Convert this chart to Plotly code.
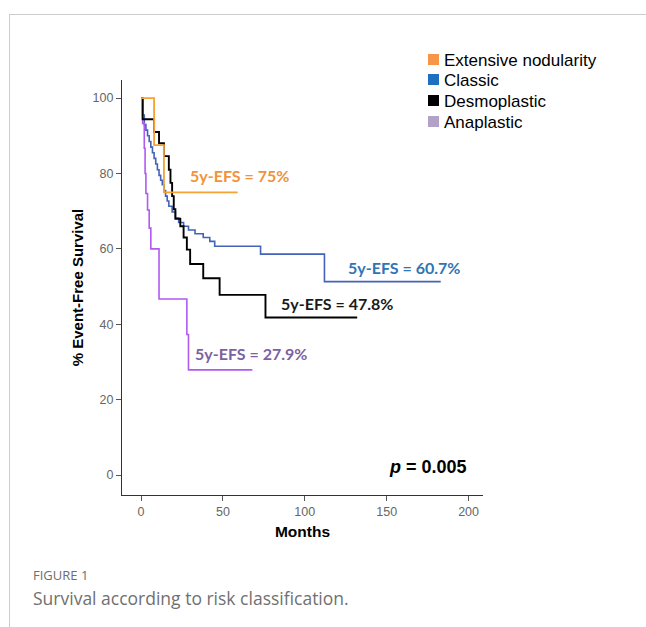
import plotly.graph_objects as go

# ---- data ----
groups = ["Extensive nodularity", "Classic", "Desmoplastic", "Anaplastic"]

en_t = [0, 8, 14, 59]
en_s = [100, 87.5, 75, 75]

cl_t = [0, 1, 2, 3, 4, 5, 6, 7, 8, 9, 10, 11, 12, 13, 14, 15, 16, 17, 19, 21, 23, 26, 29, 33, 38, 42, 45, 73, 112, 183]
cl_s = [100, 95.5, 93, 91.5, 90, 88.5, 87, 85.5, 84, 82.5, 81, 79.5, 78.2, 77, 75.5, 74, 72.7, 71.3, 69.8, 68.2, 67, 66, 65, 64, 63, 62, 60.7, 58.6, 51.3, 51.3]

de_t = [0, 1, 8, 11, 14, 17, 18, 19, 20, 21, 24, 26, 28, 30, 38, 48, 76, 132]
de_s = [100, 94.4, 91, 88, 84.6, 81, 77.5, 74, 70.5, 68, 66, 63, 59.8, 56, 52.2, 47.8, 41.8, 41.8]

an_t = [0, 1, 2, 2.5, 3, 4, 5, 6, 11, 28, 29, 68]
an_s = [100, 93.3, 86.7, 80, 74.7, 70.3, 65.5, 60, 46.7, 37.3, 27.9, 27.9]

line_colors = ["#F5A135", "#4463B8", "#000000", "#B05AF2"]
legend_colors = ["#F79646", "#1F6FC0", "#000000", "#B3A2C7"]
label_texts = ["5y-EFS = 75%", "5y-EFS = 60.7%", "5y-EFS = 47.8%", "5y-EFS = 27.9%"]
label_colors = ["#F0933A", "#2E75B6", "#1A1A1A", "#7E5FA0"]
x_ticks = [0, 50, 100, 150, 200]
y_ticks = [0, 20, 40, 60, 80, 100]

series = [(en_t, en_s), (cl_t, cl_s), (de_t, de_s), (an_t, an_s)]
widths = [1.8, 1.6, 1.9, 1.6]

fig = go.Figure()
for i in [1, 3, 2, 0]:
    t, s = series[i]
    fig.add_trace(go.Scatter(x=t, y=s, mode="lines", line=dict(color=line_colors[i], width=widths[i], shape="hv"),
                             name=groups[i], showlegend=False, hoverinfo="skip"))

L, R, T, B = 122, 483, 80, 495
W, H = 646, 627
def px(x):
    return (x - L) / (R - L)
def py(y):
    return (B - y) / (B - T)

annotations = []
label_pos = [(188, 175), (346, 267), (279, 303), (193, 353)]
for txt, col, (x, y) in zip(label_texts, label_colors, label_pos):
    annotations.append(dict(x=px(x), y=py(y), xref="paper", yref="paper", text="<b>" + txt + "</b>", showarrow=False,
                            xanchor="left", yanchor="middle", font=dict(family="Lato", size=16, color=col)))

annotations.append(dict(x=px(469), y=py(467), xref="paper", yref="paper", text="<b><i>p</i> = 0.005</b>",
                        showarrow=False, xanchor="right", yanchor="middle",
                        font=dict(family="Liberation Sans", size=18, color="#000000")))

shapes = []
leg_y = [60, 80, 101, 122]
for g, c, y in zip(groups, legend_colors, leg_y):
    shapes.append(dict(type="rect", xref="paper", yref="paper", x0=px(428), x1=px(439), y0=py(y + 5), y1=py(y - 6),
                       fillcolor=c, line=dict(width=0)))
    annotations.append(dict(x=px(442), y=py(y), xref="paper", yref="paper", text=g, showarrow=False,
                            xanchor="left", yanchor="middle",
                            font=dict(family="Liberation Sans", size=17, color="#000000")))

annotations.append(dict(x=px(31), y=py(575), xref="paper", yref="paper", text="FIGURE 1", showarrow=False,
                        xanchor="left", yanchor="middle", font=dict(family="Open Sans", size=13, color="#6E6E6E")))
annotations.append(dict(x=px(31), y=py(598), xref="paper", yref="paper", text="Survival according to risk classification.",
                        showarrow=False, xanchor="left", yanchor="middle",
                        font=dict(family="Open Sans", size=17.5, color="#707070")))

shapes.append(dict(type="line", xref="paper", yref="paper", x0=px(9), x1=px(646), y0=py(14.5), y1=py(14.5),
                   line=dict(color="#CCCCCC", width=1)))
shapes.append(dict(type="line", xref="paper", yref="paper", x0=px(9.5), x1=px(9.5), y0=py(14.5), y1=py(627),
                   line=dict(color="#CCCCCC", width=1)))

fig.update_layout(
    width=W, height=H,
    margin=dict(l=L, r=W - R, t=T, b=H - B, pad=0),
    paper_bgcolor="white", plot_bgcolor="white",
    showlegend=False,
    annotations=annotations, shapes=shapes,
    xaxis=dict(range=[-11.6, 208.8], tickvals=x_ticks, ticks="outside", ticklen=5, tickcolor="#555555",
               showline=True, linecolor="#333333", linewidth=1.2, showgrid=False, zeroline=False,
               tickfont=dict(family="Liberation Sans", size=12.5, color="#666666"),
               title=dict(text="<b>Months</b>", font=dict(family="Liberation Sans", size=15.5, color="#000000"), standoff=8)),
    yaxis=dict(range=[-5.3, 104.8], tickvals=y_ticks, ticks="outside", ticklen=5, tickcolor="#555555",
               showline=True, linecolor="#333333", linewidth=1.2, showgrid=False, zeroline=False,
               tickfont=dict(family="Liberation Sans", size=12.5, color="#666666"),
               title=dict(text="<b>% Event-Free Survival</b>", font=dict(family="Liberation Sans", size=15, color="#000000"), standoff=5)),
)

fig.write_html("out.html", config={"displayModeBar": False},
               post_script="document.body.style.margin='0';document.body.style.padding='0';")
